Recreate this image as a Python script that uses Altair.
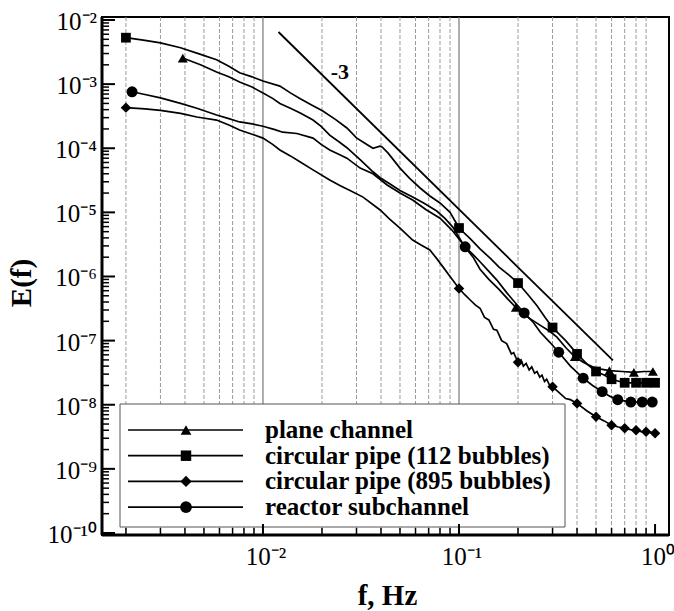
import altair as alt
import pandas as pd

# ---------------- data ----------------
SERIES = ["plane channel", "circular pipe (112 bubbles)",
          "circular pipe (895 bubbles)", "reactor subchannel"]
SHAPES = ["triangle-up", "square", "diamond", "circle"]
SIZES = [100, 95, 110, 120]

# plane channel (triangles)
PC_F = [0.0039, 0.0048, 0.0058, 0.0067, 0.0076, 0.0088, 0.010, 0.0112, 0.0122, 0.0138,
        0.0155, 0.018, 0.0198, 0.0219, 0.0245, 0.0268, 0.0315, 0.0364, 0.040, 0.0445,
        0.050, 0.058, 0.066, 0.077, 0.085, 0.093, 0.107, 0.118, 0.128, 0.142,
        0.16, 0.178, 0.195, 0.225, 0.26, 0.29, 0.316, 0.35, 0.39, 0.43,
        0.48, 0.53, 0.585, 0.68, 0.78, 0.88, 0.975]
PC_E = [2.55e-3, 2.0e-3, 1.55e-3, 1.3e-3, 1.08e-3, 9.0e-4, 7.3e-4, 6.0e-4, 5.0e-4, 4.2e-4,
        3.55e-4, 2.75e-4, 2.2e-4, 1.6e-4, 1.25e-4, 1.02e-4, 6.5e-5, 4.3e-5, 3.4e-5, 2.77e-5,
        2.2e-5, 1.73e-5, 1.4e-5, 1.05e-5, 8.0e-6, 5.9e-6, 2.9e-6, 2.0e-6, 1.3e-6, 9.0e-7,
        6.3e-7, 4.4e-7, 3.3e-7, 2.3e-7, 1.73e-7, 1.4e-7, 1.13e-7, 7.8e-8, 5.6e-8, 4.6e-8,
        3.9e-8, 3.6e-8, 3.4e-8, 3.3e-8, 3.2e-8, 3.3e-8, 3.3e-8]
PC_MF = [0.0039, 0.195, 0.39, 0.585, 0.78, 0.975]
PC_ME = [2.55e-3, 3.3e-7, 5.6e-8, 3.4e-8, 3.2e-8, 3.3e-8]

# circular pipe, 112 bubbles (squares)
CP1_F = [0.002, 0.0025, 0.003, 0.0038, 0.0046, 0.0058, 0.0067, 0.0076, 0.0088, 0.010,
         0.0122, 0.0138, 0.0155, 0.0178, 0.0202, 0.0235, 0.0268, 0.0300, 0.0331, 0.0364,
         0.0395, 0.0405, 0.0435, 0.050, 0.056, 0.0633, 0.071, 0.080, 0.090, 0.100,
         0.114, 0.128, 0.145, 0.16, 0.18, 0.20, 0.225, 0.25, 0.275, 0.30,
         0.35, 0.40, 0.45, 0.50, 0.55, 0.60, 0.70, 0.80, 0.90, 1.0]
CP1_E = [5.3e-3, 4.8e-3, 4.4e-3, 3.7e-3, 3.05e-3, 2.4e-3, 1.9e-3, 1.5e-3, 1.3e-3, 1.12e-3,
         9.3e-4, 7.3e-4, 5.9e-4, 4.7e-4, 3.8e-4, 2.8e-4, 2.07e-4, 1.45e-4, 1.2e-4, 1.0e-4,
         1.08e-4, 1.05e-4, 8.4e-5, 4.9e-5, 3.4e-5, 2.4e-5, 1.8e-5, 1.4e-5, 1.0e-5, 5.7e-6,
         3.9e-6, 2.7e-6, 1.9e-6, 1.4e-6, 1.05e-6, 7.9e-7, 5.2e-7, 3.5e-7, 2.3e-7, 1.6e-7,
         1.0e-7, 6.2e-8, 4.3e-8, 3.3e-8, 2.9e-8, 2.5e-8, 2.2e-8, 2.2e-8, 2.2e-8, 2.2e-8]
CP1_MF = [0.002, 0.1, 0.2, 0.3, 0.4, 0.5, 0.6, 0.7, 0.8, 0.9, 1.0]
CP1_ME = [5.3e-3, 5.7e-6, 7.9e-7, 1.6e-7, 6.2e-8, 3.3e-8, 2.5e-8, 2.2e-8, 2.2e-8, 2.2e-8, 2.2e-8]

# circular pipe, 895 bubbles (diamonds)
CP2_F = [0.002, 0.0025, 0.003, 0.0038, 0.0046, 0.0058, 0.0067, 0.0076, 0.0088, 0.010,
         0.0112, 0.0122, 0.0138, 0.0155, 0.018, 0.0219, 0.0248, 0.0278, 0.0324, 0.0396,
         0.044, 0.050, 0.058, 0.064, 0.071, 0.077, 0.083, 0.090, 0.100, 0.107,
         0.114, 0.121, 0.128, 0.135, 0.142, 0.150, 0.156, 0.165, 0.175, 0.185,
         0.19, 0.20, 0.207, 0.213, 0.22, 0.228, 0.235, 0.243, 0.25, 0.258,
         0.265, 0.273, 0.28, 0.29, 0.30, 0.32, 0.35, 0.37, 0.40, 0.45,
         0.50, 0.55, 0.60, 0.65, 0.70, 0.75, 0.80, 0.85, 0.90, 0.95, 1.0]
CP2_E = [4.3e-4, 4.1e-4, 3.9e-4, 3.5e-4, 3.07e-4, 2.75e-4, 2.3e-4, 1.92e-4, 1.65e-4, 1.44e-4,
         1.15e-4, 9.4e-5, 7.6e-5, 6.1e-5, 4.6e-5, 3.2e-5, 2.6e-5, 2.2e-5, 1.73e-5, 1.09e-5,
         8.0e-6, 5.7e-6, 3.7e-6, 3.1e-6, 2.6e-6, 1.9e-6, 1.4e-6, 1.0e-6, 6.5e-7, 5.2e-7,
         4.3e-7, 3.6e-7, 3.2e-7, 2.3e-7, 2.1e-7, 1.5e-7, 1.45e-7, 1.0e-7, 9.0e-8, 6.2e-8,
         6.5e-8, 4.6e-8, 5.0e-8, 4.0e-8, 4.4e-8, 3.5e-8, 3.9e-8, 3.1e-8, 3.3e-8, 2.7e-8,
         2.9e-8, 2.3e-8, 2.5e-8, 2.0e-8, 1.9e-8, 1.6e-8, 1.25e-8, 1.2e-8, 1.05e-8, 8.0e-9,
         6.5e-9, 5.6e-9, 4.8e-9, 4.5e-9, 4.3e-9, 4.1e-9, 4.0e-9, 3.8e-9, 3.8e-9, 3.7e-9, 3.6e-9]
CP2_MF = [0.002, 0.1, 0.2, 0.3, 0.4, 0.5, 0.6, 0.7, 0.8, 0.9, 1.0]
CP2_ME = [4.3e-4, 6.5e-7, 4.6e-8, 1.9e-8, 1.05e-8, 6.5e-9, 4.8e-9, 4.3e-9, 4.0e-9, 3.8e-9, 3.6e-9]

# reactor subchannel (circles)
RS_F = [0.00215, 0.0025, 0.003, 0.0038, 0.0046, 0.0058, 0.0067, 0.0076, 0.0088, 0.010,
        0.0115, 0.0126, 0.0149, 0.018, 0.0198, 0.0219, 0.0245, 0.0268, 0.0313, 0.0364,
        0.043, 0.050, 0.058, 0.068, 0.080, 0.092, 0.1075, 0.118, 0.128, 0.142,
        0.156, 0.175, 0.195, 0.215, 0.24, 0.26, 0.29, 0.3225, 0.37, 0.43,
        0.48, 0.5375, 0.59, 0.645, 0.7525, 0.86, 0.9675]
RS_E = [7.6e-4, 6.9e-4, 6.1e-4, 5.0e-4, 4.2e-4, 3.3e-4, 2.9e-4, 2.57e-4, 2.4e-4, 2.2e-4,
        1.95e-4, 1.78e-4, 1.7e-4, 1.44e-4, 1.15e-4, 9.4e-5, 8.0e-5, 7.0e-5, 4.9e-5, 4.0e-5,
        2.67e-5, 2.0e-5, 1.56e-5, 1.1e-5, 8.1e-6, 5.3e-6, 2.9e-6, 2.2e-6, 1.7e-6, 1.2e-6,
        8.8e-7, 5.6e-7, 3.8e-7, 2.7e-7, 1.9e-7, 1.35e-7, 9.5e-8, 6.6e-8, 4.0e-8, 2.6e-8,
        2.0e-8, 1.6e-8, 1.35e-8, 1.2e-8, 1.1e-8, 1.1e-8, 1.1e-8]
RS_MF = [0.00215, 0.1075, 0.215, 0.3225, 0.43, 0.5375, 0.645, 0.7525, 0.86, 0.9675]
RS_ME = [7.6e-4, 2.9e-6, 2.7e-7, 6.6e-8, 2.6e-8, 1.6e-8, 1.2e-8, 1.1e-8, 1.1e-8, 1.1e-8]

# -3 slope reference line and its label
REF_F = [0.012, 0.61]
REF_E = [6.5e-3, 4.9e-8]
REF_LABEL = ["-3"]
REF_LABEL_F = [0.0247]
REF_LABEL_E = [1.55e-3]

# axis tick labels
X_TICK_VALUES = [0.01, 0.1, 1.0]
X_TICK_LABELS = ["10\u207b\u00b2", "10\u207b\u00b9", "10\u2070"]
Y_TICK_VALUES = [1e-2, 1e-3, 1e-4, 1e-5, 1e-6, 1e-7, 1e-8, 1e-9, 1e-10]
Y_TICK_LABELS = ["10\u207b\u00b2", "10\u207b\u00b3", "10\u207b\u2074", "10\u207b\u2075",
                 "10\u207b\u2076", "10\u207b\u2077", "10\u207b\u2078", "10\u207b\u2079",
                 "10\u207b\u00b9\u2070"]
X_TITLE = "f, Hz"
Y_TITLE = "E(f)"

X_DOMAIN = [0.00151, 1.178]
Y_DOMAIN = [9.3e-11, 1.114e-2]
W, H = 567, 518
FONT = "Liberation Serif"

# ---------------- tables ----------------
LINES = [(PC_F, PC_E), (CP1_F, CP1_E), (CP2_F, CP2_E), (RS_F, RS_E)]
MARKS = [(PC_MF, PC_ME), (CP1_MF, CP1_ME), (CP2_MF, CP2_ME), (RS_MF, RS_ME)]

line_rows = []
for s, (fs, es) in zip(SERIES, LINES):
    for i, (f, e) in enumerate(zip(fs, es)):
        line_rows.append({"series": s, "f": f, "E": e, "i": i})
line_df = pd.DataFrame(line_rows)

X_MINOR = [m * 10.0 ** e for e in range(-3, 0) for m in range(2, 10)
           if X_DOMAIN[0] <= m * 10.0 ** e <= X_DOMAIN[1]]
Y_MINOR = [m * 10.0 ** e for e in range(-11, -1) for m in range(2, 10)
           if Y_DOMAIN[0] <= m * 10.0 ** e <= Y_DOMAIN[1]]

xs = alt.Scale(type="log", domain=X_DOMAIN, nice=False)
ys = alt.Scale(type="log", domain=Y_DOMAIN, nice=False)
XF = alt.X("f:Q", scale=xs, axis=None)
YE = alt.Y("E:Q", scale=ys, axis=None)

one = pd.DataFrame({"a": [0]})
layers = []

# vertical grid lines
layers.append(alt.Chart(pd.DataFrame({"f": X_MINOR})).mark_rule(
    color="#9a9a9a", strokeWidth=1, strokeDash=[4, 2]).encode(
    x=XF, y=alt.value(0), y2=alt.value(H)))
layers.append(alt.Chart(pd.DataFrame({"f": X_TICK_VALUES[:-1]})).mark_rule(
    color="#777777", strokeWidth=1.2).encode(
    x=XF, y=alt.value(0), y2=alt.value(H)))

# legend box
layers.append(alt.Chart(one).mark_rect(
    fill="white", stroke="#555555", strokeWidth=1).encode(
    x=alt.value(18), x2=alt.value(463), y=alt.value(387), y2=alt.value(510)))

# inner ticks
layers.append(alt.Chart(pd.DataFrame({"E": Y_TICK_VALUES})).mark_rule(color="black", strokeWidth=2).encode(
    y=YE, x=alt.value(0), x2=alt.value(13)))
layers.append(alt.Chart(pd.DataFrame({"E": Y_MINOR})).mark_rule(color="black", strokeWidth=1.5).encode(
    y=YE, x=alt.value(0), x2=alt.value(7)))
layers.append(alt.Chart(pd.DataFrame({"f": X_TICK_VALUES})).mark_rule(color="black", strokeWidth=2).encode(
    x=XF, y=alt.value(H), y2=alt.value(H - 11)))
layers.append(alt.Chart(pd.DataFrame({"f": X_MINOR})).mark_rule(color="black", strokeWidth=1.5).encode(
    x=XF, y=alt.value(H), y2=alt.value(H - 7)))

# thicker left / bottom axis lines
layers.append(alt.Chart(one).mark_rule(color="black", strokeWidth=3).encode(
    x=alt.value(0), y=alt.value(0), y2=alt.value(H)))
layers.append(alt.Chart(one).mark_rule(color="black", strokeWidth=3).encode(
    x=alt.value(0), x2=alt.value(W), y=alt.value(H)))

# tick labels and axis titles
layers.append(alt.Chart(pd.DataFrame({"E": Y_TICK_VALUES, "t": Y_TICK_LABELS})).mark_text(
    font=FONT, fontSize=25, color="black", align="right", baseline="middle", dy=2).encode(
    y=YE, x=alt.value(-5), text="t:N"))
layers.append(alt.Chart(pd.DataFrame({"f": X_TICK_VALUES, "t": X_TICK_LABELS})).mark_text(
    font=FONT, fontSize=25, color="black", align="center", baseline="top", dx=3).encode(
    x=XF, y=alt.value(H + 10), text="t:N"))
layers.append(alt.Chart(pd.DataFrame({"t": [Y_TITLE]})).mark_text(
    font=FONT, fontSize=29, fontWeight="bold", color="black", align="center",
    baseline="middle", angle=270).encode(
    x=alt.value(-80), y=alt.value(H / 2 + 7), text="t:N"))
layers.append(alt.Chart(pd.DataFrame({"t": [X_TITLE]})).mark_text(
    font=FONT, fontSize=29, fontWeight="bold", color="black", align="center",
    baseline="alphabetic").encode(
    x=alt.value(W / 2 + 2), y=alt.value(H + 70), text="t:N"))

# reference slope line and label
layers.append(alt.Chart(pd.DataFrame({"f": REF_F, "E": REF_E})).mark_line(
    color="black", strokeWidth=1.8).encode(x=XF, y=YE))
layers.append(alt.Chart(pd.DataFrame({"f": REF_LABEL_F, "E": REF_LABEL_E, "t": REF_LABEL})).mark_text(
    font=FONT, fontSize=22, fontWeight="bold", color="black", align="center", baseline="middle").encode(
    x=XF, y=YE, text="t:N"))

# data lines
layers.append(alt.Chart(line_df).mark_line(color="black", strokeWidth=1.7).encode(
    x=XF, y=YE, detail="series:N", order="i:Q"))

# markers
for s, shp, sz, (mf, me) in zip(SERIES, SHAPES, SIZES, MARKS):
    layers.append(alt.Chart(pd.DataFrame({"f": mf, "E": me})).mark_point(
        shape=shp, size=sz, filled=True, color="black", opacity=1).encode(x=XF, y=YE))

# legend entries
leg_df = pd.DataFrame({"series": SERIES, "row": list(range(len(SERIES)))})
leg_base = alt.Chart(leg_df).transform_calculate(ly="413 + 25.7 * datum.row")
LY = alt.Y("ly:Q", scale=None, axis=None)
layers.append(leg_base.mark_rule(color="black", strokeWidth=1.7).encode(
    y=LY, x=alt.value(26), x2=alt.value(141)))
for k, (shp, sz) in enumerate(zip(SHAPES, SIZES)):
    layers.append(leg_base.transform_filter("datum.row == %d" % k).mark_point(
        shape=shp, size=sz * 1.15, filled=True, color="black", opacity=1).encode(
        y=LY, x=alt.value(84)))
layers.append(leg_base.mark_text(
    font=FONT, fontSize=25, fontWeight="bold", color="black", align="left", baseline="middle").encode(
    y=LY, x=alt.value(163), text="series:N"))

chart = alt.layer(*layers).properties(
    width=W, height=H,
    padding={"left": 102, "top": 17, "right": 5, "bottom": 76},
    autosize=alt.AutoSizeParams(type="none"),
    background="white",
).configure_view(stroke="black", strokeWidth=2)

chart.save("out.html", embed_options={"renderer": "svg", "actions": False})
